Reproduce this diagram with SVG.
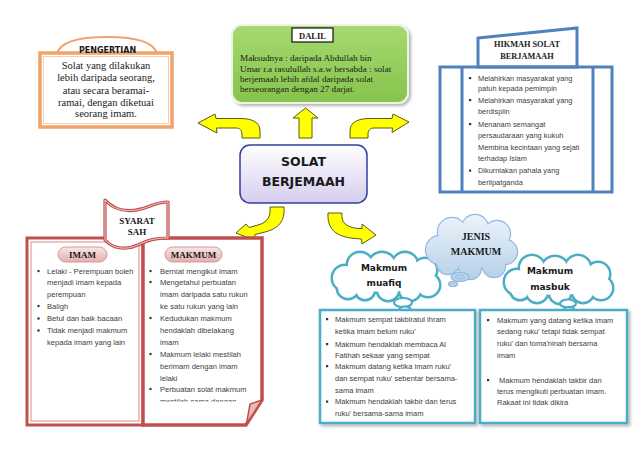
<svg xmlns="http://www.w3.org/2000/svg" width="638" height="452" viewBox="0 0 638 452">
<style>
.ser{font-family:"Liberation Serif","Times New Roman",serif;fill:#1a1a1a}
.serb{font-family:"Liberation Serif","Times New Roman",serif;font-weight:bold;fill:#1a1a1a}
.body{font-family:"Liberation Sans",Arial,sans-serif;fill:#404040}
.djb{font-family:"DejaVu Sans",Verdana,sans-serif;font-weight:bold;fill:#1a1a1a}
.arrow{fill:#FFFF00;stroke:#5a5a10;stroke-width:1;stroke-linejoin:round}
.teal{fill:none;stroke:#4BACC6;stroke-width:5}
.tealw{fill:#fff;stroke:none}
.bub{fill:#fff;stroke:#4BACC6;stroke-width:2.2}
.blue{fill:none;stroke:#4F81BD;stroke-width:3}
.dot{fill:#333}
</style>
<defs>
<filter id="sh" x="-10%" y="-10%" width="130%" height="130%">
<feDropShadow dx="2" dy="2" stdDeviation="1.5" flood-color="#000" flood-opacity="0.3"/>
</filter>
<linearGradient id="gGreen" x1="0" y1="0" x2="0" y2="1">
<stop offset="0" stop-color="#A6D96F"/><stop offset="1" stop-color="#86C44C"/>
</linearGradient>
<linearGradient id="gCenter" x1="0" y1="0" x2="0" y2="1">
<stop offset="0" stop-color="#FFFFFF"/><stop offset="1" stop-color="#D6CDEE"/>
</linearGradient>
<linearGradient id="gPill" x1="0" y1="0" x2="0" y2="1">
<stop offset="0" stop-color="#F8E6E6"/><stop offset="1" stop-color="#E2AEAD"/>
</linearGradient>
<linearGradient id="gCloud" gradientUnits="userSpaceOnUse" x1="0" y1="215" x2="0" y2="280">
<stop offset="0" stop-color="#EDF4FB"/><stop offset="1" stop-color="#B5D0E9"/>
</linearGradient>
<clipPath id="clipMak"><rect x="145" y="240" width="116" height="161.5"/></clipPath>
</defs>

<!-- PENGERTIAN -->
<g id="pengertian">
<path d="M57,54 C60,40 85,37 107,37 C130,37 154,40 157,54" fill="#fff" stroke="#F0A36A" stroke-width="2"/>
<rect x="40" y="53" width="132" height="74" fill="#fff" stroke="#F0A36A" stroke-width="3.5"/>
<rect x="43.5" y="56.5" width="125" height="67" fill="none" stroke="#F8CDAE" stroke-width="1"/>
<text class="djb" x="107.5" y="52.5" font-size="8" text-anchor="middle" fill="#222">PENGERTIAN</text>
<g class="ser" font-size="10.5" text-anchor="middle">
<text x="106" y="69">Solat yang dilakukan</text>
<text x="106" y="81">lebih daripada seorang,</text>
<text x="106" y="93.5">atau secara beramai-</text>
<text x="106" y="105.5">ramai, dengan diketuai</text>
<text x="106" y="117">seorang imam.</text>
</g>
</g>

<!-- DALIL -->
<g id="dalil">
<rect x="232" y="25" width="176" height="78" rx="10" fill="url(#gGreen)" stroke="#EEF3E8" stroke-width="2" filter="url(#sh)"/>
<rect x="292" y="28" width="41" height="14" fill="#fff" stroke="#111" stroke-width="1.2"/>
<text class="serb" x="312.5" y="38.5" font-size="8.5" text-anchor="middle">DALIL</text>
<g class="ser" font-size="9.2">
<text x="240" y="61">Maksudnya : daripada Abdullah bin</text>
<text x="240" y="71.5">Umar r.a rasulullah s.a.w bersabda : solat</text>
<text x="240" y="81.5">berjemaah lebih afdal daripada solat</text>
<text x="240" y="92">berseorangan dengan 27 darjat.</text>
</g>
</g>

<!-- HIKMAH -->
<g id="hikmah">
<polygon points="478,38 577,28 577,67 478,67" fill="#fff" stroke="#4F81BD" stroke-width="3"/>
<text class="serb" x="527" y="47" font-size="8.3" text-anchor="middle">HIKMAH SOLAT</text>
<text class="serb" x="527" y="59" font-size="8.3" text-anchor="middle">BERJAMAAH</text>
<rect x="440" y="67" width="172" height="125" fill="#fff" class="blue"/>
<line x1="462" y1="67" x2="462" y2="192" class="blue"/>
<line x1="593" y1="67" x2="593" y2="192" class="blue"/>
<g class="dot">
<rect x="469" y="77" width="2.2" height="2.2"/>
<rect x="469" y="99" width="2.2" height="2.2"/>
<rect x="469" y="123" width="2.2" height="2.2"/>
<rect x="469" y="169.5" width="2.2" height="2.2"/>
</g>
<g class="body" font-size="7.4">
<text x="478" y="80.5">Melahirkan masyarakat yang</text>
<text x="478" y="91">patuh kepada pemimpin</text>
<text x="478" y="102.5">Melahirkan masyarakat yang</text>
<text x="478" y="114">berdisplin</text>
<text x="478" y="126.5">Menanam semangat</text>
<text x="478" y="137.5">persaudaraan yang kukuh</text>
<text x="478" y="150">Membina kecintaan yang sejati</text>
<text x="478" y="160.5">terhadap Islam</text>
<text x="478" y="173">Dikurniakan pahala yang</text>
<text x="478" y="185">berlipatganda</text>
</g>
</g>

<!-- CENTER -->
<g id="solat-berjemaah">
<rect x="240" y="145" width="127" height="58" rx="10" fill="url(#gCenter)" stroke="#2F3FA0" stroke-width="1.5"/>
<text class="djb" x="303.5" y="165.5" font-size="12.5" text-anchor="middle">SOLAT</text>
<text class="djb" x="303.5" y="186" font-size="12.5" text-anchor="middle">BERJEMAAH</text>
</g>

<!-- CONNECTORS -->
<g id="connectors">
<path class="arrow" d="M260,138 L260,131 C260,122 252,118.5 240,118.5 L216,118.5 L215,114 L198,123 L217,133 L216.5,128 L236,128 C240,128 242,131 242,134 L242,138 Z"/>
<path class="arrow" d="M299,138 L299,118 L293,118 L305.5,108 L318,118 L312,118 L312,138 Z"/>
<path class="arrow" d="M350,138 L350,131 C350,122 358,118.5 370,118.5 L392,118.5 L393,114 L409,122 L392,132.5 L392.5,128 L374,128 C370,128 368,131 368,134 L368,138 Z"/>
<path class="arrow" d="M270,207 L284,207 C285,221 279,229 263,232.5 L255,234.5 L254,240 L236,233 L246,224 L249,227.5 L258,225 C267,222.5 271,217 270,207 Z"/>
<path class="arrow" d="M328,213 L342,213 C341,222 345,227 358,228.5 L362,228.5 L362,224 L376,235 L362,244 L361.5,239 L355,238.5 C337,237 327,230 328,213 Z"/>
</g>

<!-- IMAM box -->
<g id="imam">
<rect x="27" y="238" width="116" height="187" fill="#fff" stroke="#C0504D" stroke-width="3"/>
<rect x="31" y="242" width="108" height="179" fill="none" stroke="#D98A88" stroke-width="1"/>
<rect x="58" y="247" width="49" height="15" rx="7.5" fill="url(#gPill)" stroke="#D49A9A" stroke-width="1"/>
<text class="serb" x="82.5" y="258" font-size="9" text-anchor="middle" fill="#3a2020">IMAM</text>
<g class="dot">
<circle cx="38.5" cy="271" r="1.2"/>
<circle cx="38.5" cy="306" r="1.2"/>
<circle cx="38.5" cy="318.5" r="1.2"/>
<circle cx="38.5" cy="330.5" r="1.2"/>
</g>
<g class="body" font-size="7.6">
<text x="47" y="273.5">Lelaki - Perempuan boleh</text>
<text x="47" y="285">menjadi imam kepada</text>
<text x="47" y="296.5">perempuan</text>
<text x="47" y="308.5">Baligh</text>
<text x="47" y="321">Betul dan baik bacaan</text>
<text x="47" y="333">Tidak menjadi makmum</text>
<text x="47" y="345">kepada imam yang lain</text>
</g>
</g>

<!-- MAKMUM box -->
<g id="makmum">
<path d="M143,238 L262,238 L262,400 L246,425 L143,425 Z" fill="#fff" stroke="#C0504D" stroke-width="3.5" stroke-linejoin="miter"/>
<polygon points="262,400 246.5,424 250,404" fill="#EBB8B6" stroke="#C0504D" stroke-width="1.5"/>
<rect x="165" y="247" width="57" height="15" rx="7.5" fill="url(#gPill)" stroke="#D49A9A" stroke-width="1"/>
<text class="serb" x="193.5" y="258" font-size="9" text-anchor="middle" fill="#3a2020">MAKMUM</text>
<g class="dot">
<circle cx="150.5" cy="271" r="1.2"/>
<circle cx="150.5" cy="282" r="1.2"/>
<circle cx="150.5" cy="318" r="1.2"/>
<circle cx="150.5" cy="354" r="1.2"/>
<circle cx="150.5" cy="389" r="1.2"/>
</g>
<g class="body" font-size="7.6" clip-path="url(#clipMak)">
<text x="160" y="273.5">Berniat mengikut imam</text>
<text x="160" y="284.5">Mengetahui perbuatan</text>
<text x="160" y="296.5">imam daripada satu rukun</text>
<text x="160" y="308.5">ke satu rukun yang lain</text>
<text x="160" y="320.5">Kedudukan makmum</text>
<text x="160" y="333">hendaklah dibelakang</text>
<text x="160" y="344.5">imam</text>
<text x="160" y="356.5">Makmum lelaki mestilah</text>
<text x="160" y="368.5">berimam dengan imam</text>
<text x="160" y="380.5">lelaki</text>
<text x="160" y="391.5">Perbuatan solat makmum</text>
<text x="160" y="403.5">mestilah sama dengan</text>
</g>
</g>

<!-- SYARAT SAH banner -->
<g id="syarat-sah">
<path d="M105,200 C118,214 135,212 150,206 C158,203 163,202 168,202 L168,238 C155,238 148,240 138,245 C125,251 112,248 105,240 Z" fill="#fff" stroke="#C0504D" stroke-width="3.2" stroke-linejoin="round"/>
<path d="M105,200 C118,214 135,212 150,206 C158,203 163,202 168,202 L168,238 C155,238 148,240 138,245 C125,251 112,248 105,240 Z" fill="none" stroke="#F4D6D5" stroke-width="0.9" stroke-linejoin="round"/>
<text class="serb" x="137" y="224" font-size="9" text-anchor="middle">SYARAT</text>
<text class="serb" x="137" y="235" font-size="9" text-anchor="middle">SAH</text>
</g>

<!-- MAKMUM MUAFIQ cloud -->
<g id="makmum-muafiq">
<g class="teal">
<circle cx="345" cy="278" r="12"/><circle cx="360" cy="265" r="12"/><circle cx="382" cy="266" r="13"/>
<circle cx="405" cy="265" r="12"/><circle cx="425" cy="270" r="11"/><circle cx="428" cy="285" r="11"/>
<circle cx="410" cy="290" r="10"/><circle cx="388" cy="290" r="10"/><circle cx="365" cy="290" r="9"/>
<circle cx="348" cy="288" r="10"/>
</g>
<g class="tealw">
<circle cx="345" cy="278" r="12"/><circle cx="360" cy="265" r="12"/><circle cx="382" cy="266" r="13"/>
<circle cx="405" cy="265" r="12"/><circle cx="425" cy="270" r="11"/><circle cx="428" cy="285" r="11"/>
<circle cx="410" cy="290" r="10"/><circle cx="388" cy="290" r="10"/><circle cx="365" cy="290" r="9"/>
<circle cx="348" cy="288" r="10"/>
<ellipse cx="386" cy="278" rx="40" ry="14"/>
</g>
<ellipse class="bub" cx="403" cy="302.5" rx="9" ry="4.5"/>
<ellipse class="bub" cx="405" cy="309" rx="5.5" ry="2.5"/>
<text class="djb" x="384" y="270.5" font-size="9" text-anchor="middle">Makmum</text>
<text class="djb" x="384" y="285.5" font-size="9" text-anchor="middle">muafiq</text>
</g>

<!-- JENIS MAKMUM cloud -->
<g id="jenis-makmum">
<g fill="none" stroke="#92B8DC" stroke-width="2.4">
<circle cx="440" cy="250" r="14"/><circle cx="452" cy="232" r="14"/><circle cx="475" cy="228" r="13"/>
<circle cx="497" cy="234" r="13"/><circle cx="505" cy="252" r="12"/><circle cx="494" cy="266" r="11"/>
<circle cx="470" cy="268" r="11"/><circle cx="448" cy="263" r="11"/>
</g>
<g fill="url(#gCloud)">
<circle cx="440" cy="250" r="14"/><circle cx="452" cy="232" r="14"/><circle cx="475" cy="228" r="13"/>
<circle cx="497" cy="234" r="13"/><circle cx="505" cy="252" r="12"/><circle cx="494" cy="266" r="11"/>
<circle cx="470" cy="268" r="11"/><circle cx="448" cy="263" r="11"/>
<ellipse cx="472" cy="250" rx="33" ry="18"/>
</g>
<ellipse cx="460" cy="277" rx="9" ry="4.5" fill="url(#gCloud)" stroke="#92B8DC" stroke-width="1.2"/>
<ellipse cx="460" cy="277" rx="4.5" ry="2" fill="none" stroke="#92B8DC" stroke-width="0.8"/>
<ellipse cx="453" cy="284" rx="4.5" ry="2.5" fill="url(#gCloud)" stroke="#92B8DC" stroke-width="1.2"/>
<text class="serb" x="476" y="240" font-size="10" text-anchor="middle" fill="#333">JENIS</text>
<text class="serb" x="476" y="254.5" font-size="10" text-anchor="middle" fill="#333">MAKMUM</text>
</g>

<!-- MAKMUM MASBUK cloud -->
<g id="makmum-masbuk">
<g class="teal">
<circle cx="517" cy="282" r="12"/><circle cx="532" cy="268" r="12"/><circle cx="555" cy="270" r="13"/>
<circle cx="578" cy="268" r="12"/><circle cx="598" cy="274" r="11"/><circle cx="601" cy="288" r="11"/>
<circle cx="583" cy="292" r="10"/><circle cx="560" cy="293" r="10"/><circle cx="537" cy="292" r="10"/>
<circle cx="520" cy="290" r="9"/>
</g>
<g class="tealw">
<circle cx="517" cy="282" r="12"/><circle cx="532" cy="268" r="12"/><circle cx="555" cy="270" r="13"/>
<circle cx="578" cy="268" r="12"/><circle cx="598" cy="274" r="11"/><circle cx="601" cy="288" r="11"/>
<circle cx="583" cy="292" r="10"/><circle cx="560" cy="293" r="10"/><circle cx="537" cy="292" r="10"/>
<circle cx="520" cy="290" r="9"/>
<ellipse cx="558" cy="281" rx="42" ry="14"/>
</g>
<ellipse class="bub" cx="568" cy="303.5" rx="8" ry="4"/>
<ellipse class="bub" cx="569" cy="309.5" rx="5" ry="2.3"/>
<text class="djb" x="550" y="274" font-size="9" text-anchor="middle">Makmum</text>
<text class="djb" x="550" y="289.5" font-size="9" text-anchor="middle">masbuk</text>
</g>

<!-- MUAFIQ details -->
<g id="muafiq-box">
<rect x="320" y="310" width="155" height="113" fill="#fff" stroke="#4BACC6" stroke-width="2.5" filter="url(#sh)"/>
<g class="dot">
<rect x="326" y="318" width="2.2" height="2.2"/>
<rect x="326" y="343" width="2.2" height="2.2"/>
<rect x="326" y="365" width="2.2" height="2.2"/>
<rect x="326" y="400.5" width="2.2" height="2.2"/>
</g>
<g class="body" font-size="7.5">
<text x="335" y="321.5">Makmum sempat takbiratul ihram</text>
<text x="335" y="334">ketika imam belum ruku'</text>
<text x="335" y="346.5">Makmum hendaklah membaca Al</text>
<text x="335" y="357.5">Fatihah sekaar yang sempat</text>
<text x="335" y="368.5">Makmum datang ketika imam ruku'</text>
<text x="335" y="380.5">dan sempat ruku' sebentar bersama-</text>
<text x="335" y="392.5">sama imam</text>
<text x="335" y="404">Makmum hendaklah takbir dan terus</text>
<text x="335" y="415.5">ruku' bersama-sama imam</text>
</g>
</g>

<!-- MASBUK details -->
<g id="masbuk-box">
<rect x="480" y="310" width="147" height="113" fill="#fff" stroke="#4BACC6" stroke-width="2.5" filter="url(#sh)"/>
<g class="dot">
<rect x="487" y="319" width="2.2" height="2.2"/>
<rect x="487" y="379" width="2.2" height="2.2"/>
</g>
<g class="body" font-size="7.5">
<text x="497" y="322.5">Makmum yang datang ketika imam</text>
<text x="497" y="334">sedang ruku' tetapi tidak sempat</text>
<text x="497" y="346">ruku' dan toma'ninah bersama</text>
<text x="497" y="358">imam</text>
<text x="497" y="382.5" xml:space="preserve"> Makmum hendaklah takbir dan</text>
<text x="497" y="394">terus mengikuti perbuatan imam.</text>
<text x="497" y="405">Rakaat ini tidak dikira</text>
</g>
</g>
</svg>
